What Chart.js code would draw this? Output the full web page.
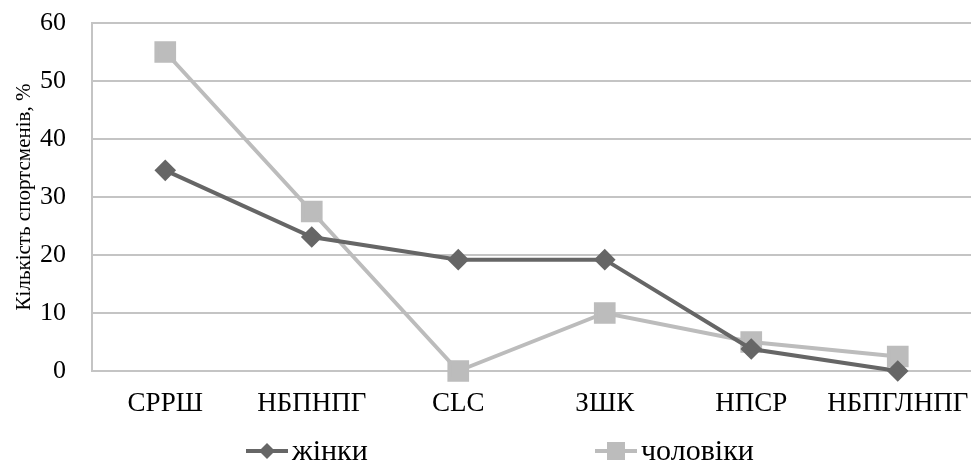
<!DOCTYPE html>
<html>
<head>
<meta charset="utf-8">
<script src="https://cdn.jsdelivr.net/npm/chart.js@4.4.1/dist/chart.umd.min.js"></script>
<style>
  html, body { margin: 0; padding: 0; background: #fff; }
  #wrap { width: 972px; height: 466px; position: relative; }
</style>
</head>
<body>
<div id="wrap"><canvas id="chart" width="972" height="466"></canvas></div>
<script>
// data
const categories = ['СРРШ', 'НБПНПГ', 'CLC', 'ЗШК', 'НПСР', 'НБПГЛНПГ'];
const women = [34.6, 23.1, 19.2, 19.2, 3.8, 0];
const men = [55, 27.5, 0, 10, 5, 2.5];
const yTicks = [0, 10, 20, 30, 40, 50, 60];

const FONT = "'Liberation Serif', 'Times New Roman', serif";
const DARK = '#666666';
const LIGHT = '#bcbcbc';
const GRID = '#c4c4c4';

// legend drawn by hand: line with the marker in the middle, like Excel
const bottomLegend = {
  id: 'bottomLegend',
  afterDraw(chart, args, opts) {
    const ctx = chart.ctx;
    ctx.save();
    ctx.font = opts.fontSize + 'px ' + FONT;
    ctx.textBaseline = 'middle';
    chart.data.datasets.forEach((ds, i) => {
      const x = opts.xs[i], y = opts.y;
      ctx.strokeStyle = ds.borderColor;
      ctx.lineWidth = 4;
      ctx.beginPath();
      ctx.moveTo(x, y);
      ctx.lineTo(x + 42, y);
      ctx.stroke();
      ctx.fillStyle = ds.borderColor;
      const cx = x + 21;
      if (ds.pointStyle === 'rectRot') {
        ctx.beginPath();
        ctx.moveTo(cx, y - 8);
        ctx.lineTo(cx + 8, y);
        ctx.lineTo(cx, y + 8);
        ctx.lineTo(cx - 8, y);
        ctx.closePath();
        ctx.fill();
      } else {
        ctx.fillRect(cx - 9, y - 9, 18, 18);
      }
      ctx.fillStyle = '#000';
      ctx.fillText(ds.label, x + 46, y + 1);
    });
    ctx.restore();
  }
};

new Chart(document.getElementById('chart'), {
  type: 'line',
  data: {
    labels: categories,
    datasets: [
      {
        label: 'жінки',
        data: women,
        borderColor: DARK,
        backgroundColor: DARK,
        borderWidth: 4,
        pointStyle: 'rectRot',
        pointRadius: 8,
        pointHoverRadius: 8,
        tension: 0,
        clip: false
      },
      {
        label: 'чоловіки',
        data: men,
        borderColor: LIGHT,
        backgroundColor: LIGHT,
        borderWidth: 4,
        pointStyle: 'rect',
        pointRadius: 12.5,
        pointHoverRadius: 12.5,
        tension: 0,
        clip: false
      }
    ]
  },
  options: {
    responsive: false,
    animation: false,
    layout: { autoPadding: false, padding: { top: 23, right: 1, bottom: 0, left: 12 } },
    plugins: {
      legend: { display: false },
      tooltip: { enabled: false },
      bottomLegend: { xs: [246, 595], y: 451, fontSize: 30 }
    },
    scales: {
      x: {
        offset: true,
        grid: { display: false, drawTicks: false },
        border: { display: false },
        ticks: { color: '#000', font: { family: FONT, size: 27 }, padding: 17, maxRotation: 0 },
        afterFit: (scale) => { scale.paddingLeft = 0; scale.paddingRight = 0; scale.height = 95; }
      },
      y: {
        min: 0,
        max: 60,
        afterBuildTicks: (scale) => { scale.ticks = yTicks.map(v => ({ value: v })); },
        grid: { color: GRID, lineWidth: 2, drawTicks: false },
        border: { display: true, color: GRID, width: 2 },
        ticks: { color: '#000', font: { family: FONT, size: 26 }, padding: 26 },
        title: {
          display: true,
          text: 'Кількість спортсменів, %',
          color: '#000',
          font: { family: FONT, size: 21 },
          padding: { top: 0, bottom: 0 }
        },
        afterFit: (scale) => { scale.width = 80; scale.paddingTop = 0; scale.paddingBottom = 0; }
      }
    }
  },
  plugins: [bottomLegend]
});
</script>
</body>
</html>
